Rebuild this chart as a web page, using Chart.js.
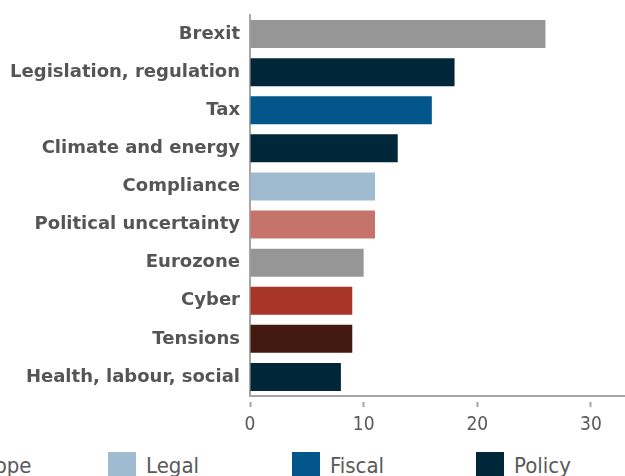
<!DOCTYPE html>
<html>
<head>
<meta charset="utf-8">
<script src="https://cdn.jsdelivr.net/npm/chart.js@4/dist/chart.umd.min.js"></script>
<style>
  body { margin: 0; width: 625px; height: 476px; overflow: hidden; background: #fff; position: relative; }
  #wrap { position: absolute; left: 0; top: 0; width: 625px; height: 436px; }
  #legend { position: absolute; top: 452px; left: 0; height: 30px; }
  .item { position: absolute; top: 0; height: 28px; }
  .box { position: absolute; left: 0; top: 0; width: 28px; height: 28px; }
  .txt { position: absolute; left: 38px; top: 0; white-space: nowrap; font-family: "DejaVu Sans Condensed", "DejaVu Sans", sans-serif; font-size: 22px; line-height: 28px; color: #595959; }
</style>
</head>
<body>
<div id="wrap"><canvas id="myChart"></canvas></div>
<div id="legend"></div>
<script>
// risk categories, top to bottom
var categories = ['Brexit', 'Legislation, regulation', 'Tax', 'Climate and energy', 'Compliance',
  'Political uncertainty', 'Eurozone', 'Cyber', 'Tensions', 'Health, labour, social'];
var values = [26, 18, 16, 13, 11, 11, 10, 9, 9, 8];
var barColors = ['#969696', '#00263a', '#02568a', '#00263a', '#9ebbcf',
  '#c4746a', '#969696', '#a83628', '#431a10', '#00263a'];
var tickValues = [0, 10, 20, 30];

// legend (left part is cut off in the original)
var legendLabels = ['Europe', 'Legal', 'Fiscal', 'Policy'];
var legendColors = ['#969696', '#9ebbcf', '#02568a', '#00263a'];

var legend = document.getElementById('legend');
legendLabels.forEach(function(lbl, i) {
  var item = document.createElement('div');
  item.className = 'item';
  item.style.left = (-76 + i * 184) + 'px';
  var box = document.createElement('div');
  box.className = 'box';
  box.style.background = legendColors[i];
  var txt = document.createElement('span');
  txt.className = 'txt';
  txt.textContent = lbl;
  item.appendChild(box);
  item.appendChild(txt);
  legend.appendChild(item);
});

var ctx = document.getElementById('myChart').getContext('2d');
var myChart = new Chart(ctx, {
  type: 'bar',
  data: {
    labels: categories,
    datasets: [{
      data: values,
      backgroundColor: barColors,
      borderWidth: 0,
      categoryPercentage: 1,
      barPercentage: 0.735
    }]
  },
  options: {
    indexAxis: 'y',
    responsive: true,
    maintainAspectRatio: false,
    animation: false,
    layout: { padding: { top: 15, right: 0, bottom: 0, left: 0 } },
    plugins: {
      legend: { display: false },
      tooltip: { enabled: false }
    },
    scales: {
      x: {
        min: 0,
        max: 33,
        afterBuildTicks: function(scale) {
          scale.ticks = tickValues.map(function(v) { return { value: v }; });
        },
        afterFit: function(scale) { scale.height = 40; },
        border: { color: '#a6a6a6', width: 2 },
        grid: {
          drawOnChartArea: false,
          drawTicks: true,
          tickLength: 11,
          tickColor: '#a6a6a6',
          tickWidth: 2,
          tickBorderDash: [0, 5, 6, 20]
        },
        ticks: {
          padding: 7,
          color: '#595959',
          font: { family: '"DejaVu Sans Condensed", "DejaVu Sans", sans-serif', size: 19 }
        }
      },
      y: {
        afterFit: function(scale) {
          scale.width = 250;
          scale.paddingTop = 0;
          scale.paddingBottom = 0;
        },
        border: { color: '#a6a6a6', width: 2 },
        grid: { display: false, drawTicks: false },
        ticks: {
          padding: 10,
          color: '#555555',
          font: { family: '"DejaVu Sans", sans-serif', size: 18, weight: 'bold' }
        }
      }
    }
  }
});
</script>
</body>
</html>
